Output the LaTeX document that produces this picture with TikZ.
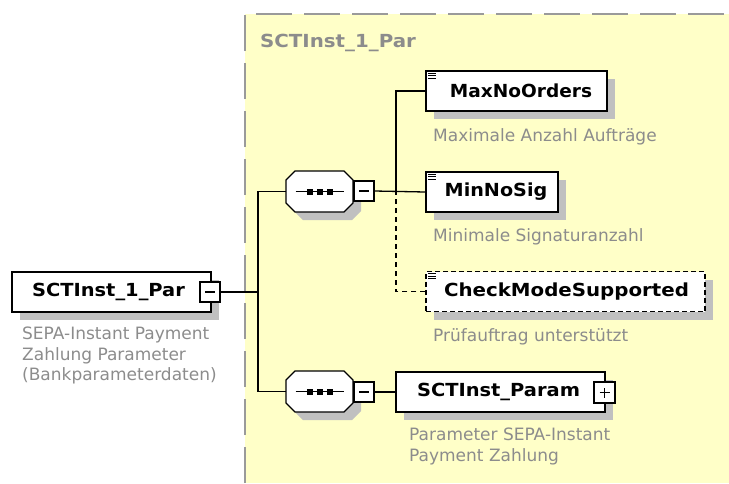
\documentclass[tikz,border=0pt]{standalone}
\usepackage{fontspec}
\setmainfont{DejaVu Sans}
\usetikzlibrary{shadows}
\definecolor{bgyellow}{HTML}{FFFFC8}
\definecolor{shadowgray}{HTML}{C0C0C0}
\definecolor{descgray}{HTML}{8C8C8C}
\definecolor{bordergray}{HTML}{9A9A9A}
\newcommand{\seqdraw}[1]{%
  \begin{scope}[shift={(#1.center)}]
    \fill[shadowgray, shift={(8,8)}] (-24.5,-20.5) -- (24.5,-20.5) -- (33.5,-11.5) -- (33.5,11.5) -- (24.5,20.5) -- (-24.5,20.5) -- (-33.5,11.5) -- (-33.5,-11.5) -- cycle;
    \draw[fill=white, line width=1.3pt] (-24.5,-20.5) -- (24.5,-20.5) -- (33.5,-11.5) -- (33.5,11.5) -- (24.5,20.5) -- (-24.5,20.5) -- (-33.5,11.5) -- (-33.5,-11.5) -- cycle;
    \draw[line width=1.3pt] (-24,0) -- (24,0);
    \foreach \sx in {-9.5,0.5,10.5} \fill (\sx-3,-3) rectangle (\sx+3,3);
  \end{scope}}
\newcommand{\docicon}[1]{%
  \foreach \dy in {3,5.5,8} \draw[iconline] ([shift={(3,\dy)}]#1.north west) -- ++(8,0);}
\newcommand{\minussign}[1]{\draw[line width=1.2pt] ([xshift=-5pt]#1.center) -- ([xshift=5pt]#1.center);}
\newcommand{\plussign}[1]{\minussign{#1}\draw[line width=1.2pt] ([yshift=-5pt]#1.center) -- ([yshift=5pt]#1.center);}
\newcommand{\wide}[2]{\scalebox{#1}[1]{#2}}
\begin{document}
\begin{tikzpicture}[x=1pt,y=-1pt,
 conn/.style={line width=1.3pt},
 dconn/.style={line width=1.3pt, dash pattern=on 5pt off 4pt},
 elembox/.style={draw, fill=white, line width=1.5pt, minimum height=40pt, inner sep=0pt,
   font=\fontsize{18}{20}\selectfont\bfseries,
   drop shadow={shadow xshift=8pt, shadow yshift=-8pt, fill=shadowgray, opacity=1}},
 optbox/.style={elembox, dash pattern=on 5pt off 3pt},
 togglebox/.style={draw, fill=white, line width=1.2pt, minimum width=20pt, minimum height=20pt, inner sep=0pt},
 desc/.style={anchor=north west, inner sep=0pt, align=left, text=descgray, font=\fontsize{17}{20.5}\selectfont},
 iconline/.style={line width=1pt},
 seqanchor/.style={minimum width=67pt, minimum height=41pt, inner sep=0pt},
 titletext/.style={anchor=west, inner sep=0pt, text=descgray, font=\fontsize{18}{20}\selectfont\bfseries},
]
\useasboundingbox (0,0) rectangle (729,483);
% background group
\fill[bgyellow] (245,14) rectangle (729,483);
\draw[bordergray, line width=2pt, dash pattern=on 36pt off 12pt] (245,483) -- (245,14) -- (729,14);
\node[titletext] (grouptitle) at (260,43) {\wide{1.1}{SCTInst\_1\_Par}};

% main element
\node[elembox, minimum width=199pt] (main) at (111.5,292) {\wide{1.08}{SCTInst\_1\_Par}\hspace*{6pt}};
\node[togglebox] (mainm) at (210,292) {};
\minussign{mainm}
\node[desc] (maindesc) at (22,327) {SEPA-Instant Payment\\Zahlung Parameter\\(Bankparameterdaten)};

% trunk
\coordinate (trunk) at (258,292);

% sequence 1
\node[seqanchor] (seqa) at (319.5,191.5) {};
\seqdraw{seqa}
\node[togglebox] (seqam) at (364,191) {};
\minussign{seqam}
\coordinate (vbranch) at (396,191);

% sequence 2
\node[seqanchor] (seqb) at (319.5,391.5) {};
\seqdraw{seqb}
\node[togglebox] (seqbm) at (364,392) {};
\minussign{seqbm}

% children
\node[elembox, minimum width=181pt] (maxno) at (516.5,91) {\hspace*{9pt}\wide{1.03}{MaxNoOrders}};
\docicon{maxno}
\node[desc] (maxnodesc) at (433,128) {Maximale Anzahl Aufträge};

\node[elembox, minimum width=132pt] (minno) at (492,192) {\hspace*{8pt}\wide{1.065}{MinNoSig}};
\docicon{minno}
\node[desc] (minnodesc) at (433,228) {Minimale Signaturanzahl};

\node[optbox, minimum width=279pt] (check) at (565.5,291.5) {\hspace*{2pt}\wide{1.10}{CheckModeSupported}};
\docicon{check}
\node[desc] (checkdesc) at (433,328) {Prüfauftrag unterstützt};

\node[elembox, minimum width=209pt] (param) at (500.5,392) {\wide{1.08}{SCTInst\_Param}\hspace*{4pt}};
\node[togglebox, minimum width=21pt, minimum height=21pt] (paramp) at (604.5,392.5) {};
\plussign{paramp}
\node[desc] (paramdesc) at (409,428) {Parameter SEPA-Instant\\Payment Zahlung};

% connectors
\draw[conn] (mainm.east) -- (trunk);
\draw[conn] (seqa.west) -| (trunk);
\draw[conn] (seqb.west) -| (trunk);
\draw[conn] (seqam.east) -- (minno.west);
\draw[conn] (maxno.west) -| (vbranch);
\draw[dconn] (check.west) -| (vbranch);
\draw[conn] (seqbm.east) -- (param.west);
\end{tikzpicture}
\end{document}
